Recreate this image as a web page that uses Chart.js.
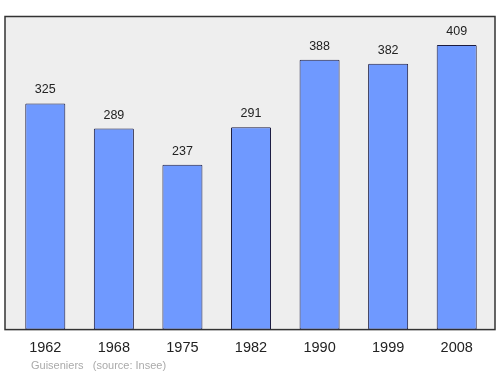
<!DOCTYPE html>
<html lang="fr">
<head>
  <meta charset="UTF-8">
  <title>Guiseniers - population</title>
  <script src="https://cdn.jsdelivr.net/npm/chart.js"></script>
  <style>
    html, body { margin: 0; padding: 0; background: #ffffff; }
    #wrap { width: 500px; height: 374px; }
  </style>
</head>
<body>
  <div id="wrap"><canvas id="graphique"></canvas></div>

  <script>
    const annees = ['1962', '1968', '1975', '1982', '1990', '1999', '2008'];
    const population = [325, 289, 237, 291, 388, 382, 409];
    const commune = 'Guiseniers';
    const source = '(source: Insee)';

    // fond gris + cadre autour de la zone du graphique
    const cadre = {
      id: 'cadre',
      beforeDatasetsDraw(chart) {
        const a = chart.chartArea;
        const ctx = chart.ctx;
        const x0 = a.left - 6, x1 = a.right + 4;
        ctx.save();
        ctx.fillStyle = '#eeeeee';
        ctx.fillRect(x0, a.top, x1 - x0, a.bottom - a.top);
        ctx.strokeStyle = '#333333';
        ctx.lineWidth = 1.5;
        ctx.strokeRect(x0, a.top, x1 - x0, a.bottom - a.top);
        ctx.restore();
      }
    };

    // valeurs au-dessus des barres + mention de la source
    const etiquettes = {
      id: 'etiquettes',
      afterDatasetsDraw(chart) {
        const ctx = chart.ctx;
        const meta = chart.getDatasetMeta(0);
        ctx.save();
        ctx.font = '12.5px "Liberation Sans", Arial, sans-serif';
        ctx.fillStyle = '#222222';
        ctx.textAlign = 'center';
        ctx.textBaseline = 'alphabetic';
        meta.data.forEach((bar, i) => {
          ctx.fillText(String(population[i]), bar.x, bar.y - 10);
        });
        ctx.font = '11px "Liberation Sans", Arial, sans-serif';
        ctx.fillStyle = '#aaaaaa';
        ctx.textAlign = 'left';
        ctx.fillText(commune + '   ' + source, 31, 369);
        ctx.restore();
      }
    };

    new Chart(document.getElementById('graphique'), {
      type: 'bar',
      data: {
        labels: annees,
        datasets: [{
          data: population,
          backgroundColor: '#6f99ff',
          borderColor: '#1c1c40',
          borderWidth: 1,
          borderSkipped: false,
          borderRadius: 1,
          barPercentage: 1,
          categoryPercentage: 0.584
        }]
      },
      options: {
        responsive: true,
        maintainAspectRatio: false,
        animation: false,
        layout: { padding: { left: 11, right: 9, top: 16.5, bottom: 7 } },
        plugins: {
          legend: { display: false },
          tooltip: { enabled: false }
        },
        scales: {
          x: {
            grid: { display: false, drawTicks: false },
            border: { display: false },
            ticks: {
              color: '#222222',
              padding: 10,
              font: { family: '"Liberation Sans", Arial, sans-serif', size: 14.5 }
            }
          },
          y: {
            display: false,
            min: 0,
            max: 450
          }
        }
      },
      plugins: [cadre, etiquettes]
    });
  </script>
</body>
</html>
